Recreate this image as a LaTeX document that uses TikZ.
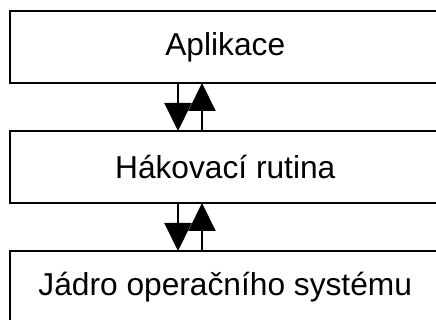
\documentclass[tikz,border=0pt]{standalone}
\usepackage{fontspec}
\setmainfont{Liberation Sans}
\usetikzlibrary{arrows.meta}
\begin{document}
\begin{tikzpicture}[x=1pt,y=-1pt,
  layerbox/.style={draw=black, line width=2pt, fill=white, minimum width=431.5pt, minimum height=72pt, inner sep=0pt, outer sep=0pt, font=\fontsize{31.7}{38}\selectfont},
  flow/.style={line width=2pt, -{Triangle[width=27pt,length=28pt]}}]
\useasboundingbox (0,0) rectangle (436,320);
\fill[white] (0,0) rectangle (436,320);
\node[layerbox] (app) at (225.25,47) {Aplikace};
\node[layerbox] (hook) at (225.25,167) {Hákovací rutina};
\node[layerbox] (kern) at (225.25,287) {Jádro operačního systému};
\draw[flow] ([xshift=-47.25pt]app.south) -- ([xshift=-47.25pt]hook.north);
\draw[flow] ([xshift=-23.25pt]hook.north) -- ([xshift=-23.25pt]app.south);
\draw[flow] ([xshift=-47.25pt]hook.south) -- ([xshift=-47.25pt]kern.north);
\draw[flow] ([xshift=-23.25pt]kern.north) -- ([xshift=-23.25pt]hook.south);
\end{tikzpicture}
\end{document}
